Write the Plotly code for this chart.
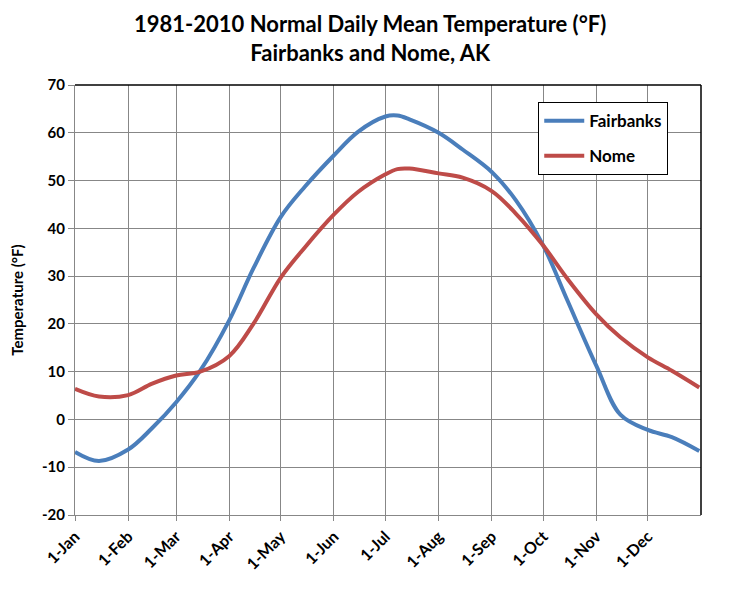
import plotly.graph_objects as go

# normals (deg F), roughly twice a month
dates = ["2010-01-01", "2010-01-15", "2010-02-01", "2010-02-15", "2010-03-01",
         "2010-03-15", "2010-04-01", "2010-04-15", "2010-05-01", "2010-05-15",
         "2010-06-01", "2010-06-15", "2010-07-01", "2010-07-08", "2010-07-15",
         "2010-08-01", "2010-08-15", "2010-09-01", "2010-09-15", "2010-10-01",
         "2010-10-15", "2010-11-01", "2010-11-15", "2010-12-01", "2010-12-15",
         "2010-12-31"]

fairbanks = [-6.8, -8.7, -6.3, -1.8, 3.6, 10.2, 20.8, 31.6, 42.4, 48.7,
             55.3, 60.2, 63.4, 63.6, 62.8, 60.0, 56.5, 51.8, 45.9, 36.4,
             25.0, 11.2, 1.0, -2.2, -3.7, -6.6]

nome = [6.4, 4.8, 5.1, 7.5, 9.2, 10.0, 13.3, 20.0, 29.7, 36.0,
        42.9, 47.6, 51.3, 52.4, 52.5, 51.5, 50.6, 47.8, 43.1, 36.4,
        29.5, 22.0, 17.2, 13.0, 10.2, 6.7]

month_ticks = ["2010-%02d-01" % m for m in range(1, 13)]
month_labels = ["1-Jan", "1-Feb", "1-Mar", "1-Apr", "1-May", "1-Jun",
                "1-Jul", "1-Aug", "1-Sep", "1-Oct", "1-Nov", "1-Dec"]

temp_ticks = [-20, -10, 0, 10, 20, 30, 40, 50, 60, 70]
temp_labels = [str(t) for t in temp_ticks]  # plain hyphen, not unicode minus

FONT = "Lato, 'Open Sans', sans-serif"
GRID = "#878787"

fig = go.Figure()
fig.add_trace(go.Scatter(x=dates, y=fairbanks, name="Fairbanks", mode="lines",
                         legendgroup="fbk",
                         line=dict(color="#4a7ebb", width=4, shape="spline", smoothing=1.0)))
fig.add_trace(go.Scatter(x=dates, y=nome, name="Nome", mode="lines",
                         legendgroup="nome",
                         line=dict(color="#be4b48", width=4, shape="spline", smoothing=1.0)))

# page body adds an 8px offset, so the figure is 8px smaller and margins shifted
fig.update_layout(
    width=732, height=584,
    margin=dict(l=67, r=39, t=77, b=77, autoexpand=False),
    paper_bgcolor="white", plot_bgcolor="white",
    font=dict(family=FONT, color="black"),
    legend=dict(x=0.74, y=0.96, xanchor="left", yanchor="top",
                bordercolor="black", borderwidth=1, bgcolor="white",
                font=dict(size=17, family=FONT, weight="bold"),
                tracegroupgap=10, itemwidth=40),
    showlegend=True,
)

fig.add_annotation(
    text="<b>1981-2010 Normal Daily Mean Temperature (°F)<br>Fairbanks and Nome, AK</b>",
    xref="paper", yref="paper", x=(362 - 67) / 626, y=1 + (77 - 30) / 430,
    xanchor="center", yanchor="middle", showarrow=False,
    font=dict(size=22, family=FONT, color="black"),
)

fig.update_xaxes(
    range=["2010-01-01", "2011-01-01"],
    tickvals=month_ticks, ticktext=month_labels,
    tickangle=-45,
    tickfont=dict(size=16, family=FONT, weight="bold"),
    showgrid=True, gridcolor=GRID, gridwidth=1,
    showline=True, linecolor=GRID, linewidth=1,
    ticks="outside", ticklen=5, tickcolor=GRID,
    zeroline=False, automargin=False,
)
fig.update_yaxes(
    range=[-20, 70], tickvals=temp_ticks, ticktext=temp_labels,
    tickfont=dict(size=15, family=FONT, weight="bold"),
    showgrid=True, gridcolor=GRID, gridwidth=1,
    showline=True, linecolor=GRID, linewidth=1,
    ticks="outside", ticklen=6, tickcolor=GRID,
    zeroline=False, automargin=False,
    title=dict(text="Temperature (°F)", font=dict(size=15, family=FONT, weight="bold"),
               standoff=22),
)

# black frame on top and right like the spreadsheet plot area
fig.add_shape(type="line", xref="paper", yref="paper", x0=0, x1=1, y0=1, y1=1,
              line=dict(color="black", width=1.5))
fig.add_shape(type="line", xref="paper", yref="paper", x0=1, x1=1, y0=0, y1=1,
              line=dict(color="black", width=1.5))

fig.write_html("out.html")
